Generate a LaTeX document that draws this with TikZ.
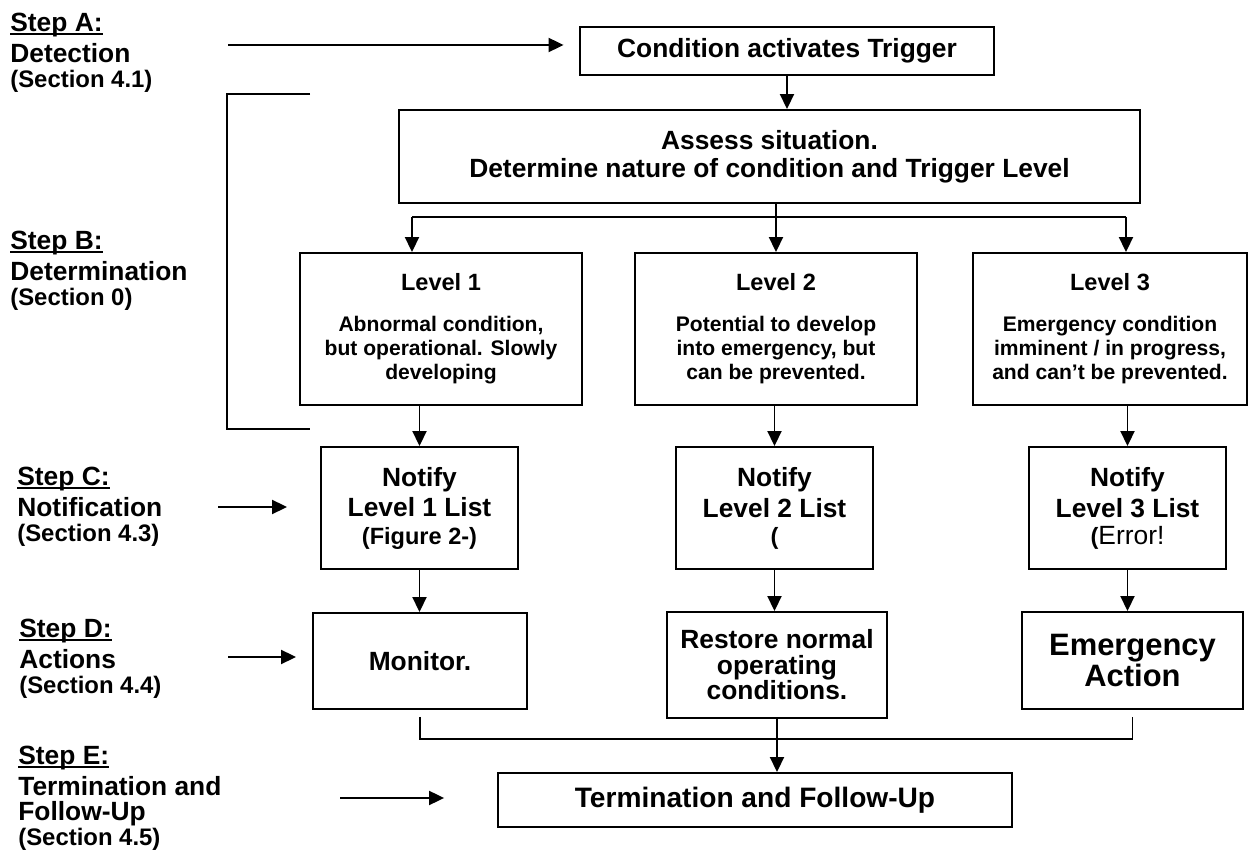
\documentclass[tikz,border=0pt]{standalone}
\usepackage{fontspec}
\setmainfont{Liberation Sans}
\usetikzlibrary{arrows.meta}
\newcommand{\steptitle}[1]{\leavevmode\setbox0=\hbox{#1}\rlap{\rule[-1.6pt]{\wd0}{0.9pt}}\box0}

\begin{document}
\begin{tikzpicture}[x=0.02cm,y=-0.02cm,box/.style={draw,line width=1.1pt,fill=white,inner sep=0pt,align=center,font=\bfseries\fontsize{15}{17.6}\selectfont},levelbox/.style={box,font=\bfseries\fontsize{12}{13.7}\selectfont},steplabel/.style={anchor=north west,inner sep=0pt,align=left,font=\bfseries\fontsize{15}{17.6}\selectfont},flow/.style={line width=1.1pt,-{Triangle[length=0.3cm,width=0.28cm]}},link/.style={line width=1.1pt}]
\useasboundingbox (0,0) rectangle (1249,861);
% step labels on the left
\node[steplabel] (stepA) at (10,13) {\steptitle{Step A:}\\Detection\\[-3.4pt]{\fontsize{13.6}{14.2}\selectfont (Section 4.1)}};
\node[steplabel] (stepB) at (10,231) {\steptitle{Step B:}\\Determination\\[-3.4pt]{\fontsize{13.6}{14.2}\selectfont (Section 0)}};
\node[steplabel] (stepC) at (17,467) {\steptitle{Step C:}\\Notification\\[-3.4pt]{\fontsize{13.6}{14.2}\selectfont (Section 4.3)}};
\node[steplabel] (stepD) at (19,619) {\steptitle{Step D:}\\Actions\\[-3.4pt]{\fontsize{13.6}{14.2}\selectfont (Section 4.4)}};
\node[steplabel] (stepE) at (18,746) {\steptitle{Step E:}\\Termination and\\[-3.4pt]Follow-Up\\[-3.4pt]{\fontsize{13.6}{14.2}\selectfont (Section 4.5)}};
% main flow
\node[box,minimum width=8.3cm,minimum height=0.96cm] (trigger) at (787,51) {Condition activates Trigger};
\node[box,minimum width=14.82cm,minimum height=1.86cm,font=\bfseries\fontsize{15}{16}\selectfont] (assess) at (769.5,156.5) {Assess situation.\\Determine nature of condition and Trigger Level};
\node[levelbox,minimum width=5.64cm,minimum height=3.04cm] (levone) at (441,329) {{\fontsize{13.4}{13.7}\selectfont Level 1}\\[9.6pt]Abnormal condition,\\but operational. Slowly\\developing};
\node[levelbox,minimum width=5.64cm,minimum height=3.04cm] (levtwo) at (776,329) {{\fontsize{13.4}{13.7}\selectfont Level 2}\\[9.6pt]Potential to develop\\into emergency, but\\can be prevented.};
\node[levelbox,minimum width=5.48cm,minimum height=3.04cm] (levthree) at (1110,329) {{\fontsize{13.4}{13.7}\selectfont Level 3}\\[9.6pt]Emergency condition\\imminent / in progress,\\and can’t be prevented.};
\node[box,minimum width=3.94cm,minimum height=2.44cm] (notifyone) at (419.5,508) {Notify\\Level 1 List\\[-2.2pt]{\fontsize{13.4}{15.4}\selectfont (Figure 2-)}};
\node[box,minimum width=3.94cm,minimum height=2.44cm] (notifytwo) at (774.5,508) {Notify\\Level 2 List\\[-2.2pt]{\fontsize{13.4}{15.4}\selectfont (}};
\node[box,minimum width=3.94cm,minimum height=2.44cm] (notifythree) at (1127.5,508) {Notify\\Level 3 List\\[-2.2pt]{\fontsize{13.4}{15.4}\selectfont (}{\mdseries Error!}};
\node[box,minimum width=4.28cm,minimum height=1.92cm] (monitor) at (420,661) {Monitor.};
\node[box,minimum width=4.4cm,minimum height=2.12cm,font=\bfseries\fontsize{15}{14.5}\selectfont] (restore) at (777,665) {Restore normal\\operating\\conditions.};
\node[box,minimum width=4.42cm,minimum height=1.94cm,font=\bfseries\fontsize{17.6}{17.6}\selectfont] (emergency) at (1132.5,660.5) {Emergency\\Action};
\node[box,minimum width=10.28cm,minimum height=1.08cm,font=\bfseries\fontsize{16}{17.6}\selectfont] (termination) at (755,800) {Termination and Follow-Up};
% connectors
\draw[flow] (trigger.south) -- (trigger.south |- assess.north);
\draw[flow] (assess.south -| levtwo) -- (levtwo);
\coordinate (splitL) at (412,217);
\coordinate (splitR) at (1126,217);
\draw[link] (splitL) -- (splitR);
\draw[flow] (splitL) -- (splitL |- levone.north);
\draw[flow] (splitR) -- (splitR |- levthree.north);
\draw[flow] (levone.south -| notifyone) -- (notifyone);
\draw[flow] (levtwo.south -| notifytwo) -- (notifytwo);
\draw[flow] (levthree.south -| notifythree) -- (notifythree);
\draw[flow] (notifyone.south) -- (notifyone.south |- monitor.north);
\draw[flow] (notifytwo.south) -- (notifytwo.south |- restore.north);
\draw[flow] (notifythree.south) -- (notifythree.south |- emergency.north);
\draw[link] ([yshift=-0.14cm]monitor.south) |- ([yshift=-0.58cm]emergency.south) -- ([yshift=-0.14cm]emergency.south);
\draw[flow] (restore.south) -- (restore.south |- termination.north);
% bracket round step B
\coordinate (bracketTop) at (310,94);
\coordinate (bracketBot) at (310,429);
\draw[link] (bracketTop) -- ++(-83,0) |- (bracketBot);
% arrows from the step labels
\coordinate (tailA) at (228,45);
\coordinate (tailC) at (218,507);
\coordinate (tailD) at (228,657);
\coordinate (tailE) at (340,798);
\draw[flow,shorten >=0.3cm] (tailA) -- (tailA -| trigger.west);
\draw[flow,shorten >=0.66cm] (tailC) -- (tailC -| notifyone.west);
\draw[flow,shorten >=0.32cm] (tailD) -- (tailD -| monitor.west);
\draw[flow,shorten >=1.06cm] (tailE) -- (tailE -| termination.west);
\end{tikzpicture}
\end{document}
